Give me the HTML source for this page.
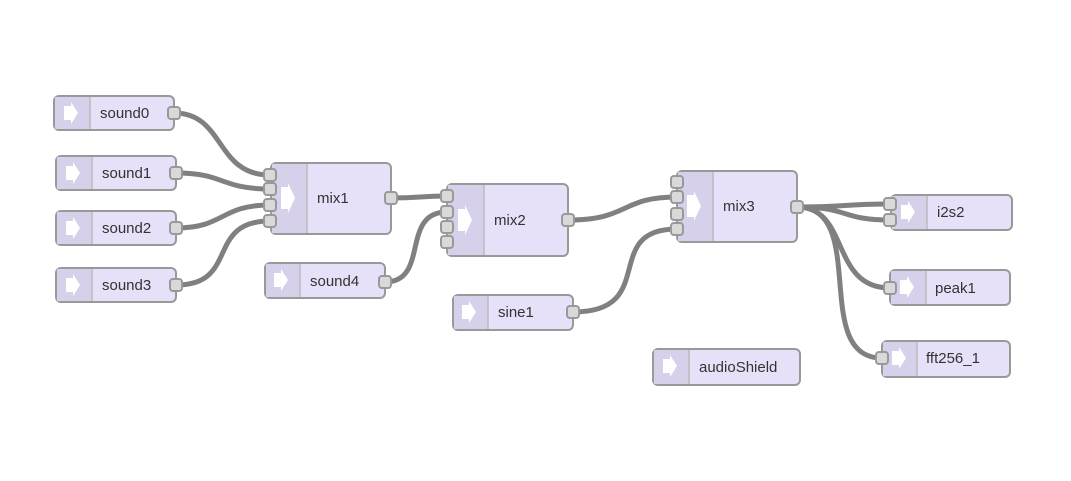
<!DOCTYPE html>
<html><head><meta charset="utf-8"><style>
html,body{margin:0;padding:0;background:#fff;}
svg text{font-family:"Liberation Sans",sans-serif;font-size:15px;fill:#333;}
.n{fill:#e6e0f8;stroke:#999;stroke-width:2;}
.ic{fill:#d6d0ea;}
.sep{stroke:#bbb;stroke-width:1.5;}
.p{fill:#d9d9d9;stroke:#999;stroke-width:2;}
.w{fill:none;stroke:#808080;stroke-width:5;}
.ar{fill:#fff;}
</style></head><body>
<svg width="1071" height="476" viewBox="0 0 1071 476" xmlns="http://www.w3.org/2000/svg">
<!-- wires -->
<path class="w" d="M174 113 C225 113 215 175 270 175"/>
<path class="w" d="M176 173 C225 173 220 189 270 189"/>
<path class="w" d="M176 228 C225 228 220 205 270 205"/>
<path class="w" d="M176 285 C240 285 205 221 270 221"/>
<path class="w" d="M391 198 C420 198 420 196 447 196"/>
<path class="w" d="M385 282 C430 282 400 212 447 212"/>
<path class="w" d="M568 220 C630 220 620 197 677 197"/>
<path class="w" d="M573 312 C660 312 600 229 677 229"/>
<path class="w" d="M797 207 C850 207 840 204 890 204"/>
<path class="w" d="M797 207 C850 207 840 220 890 220"/>
<path class="w" d="M797 207 C850 207 830 288 890 288"/>
<path class="w" d="M797 207 C870 207 810 358 882 358"/>
<g id="nodes">
<!-- sound0 -->
<rect class="n" x="54" y="96" width="120" height="34" rx="5"/>
<path class="ic" d="M55 97 H90 V129 H55 Z"/><line class="sep" x1="90" y1="97" x2="90" y2="129"/>
<path class="ar" d="M64 106 H71 V102 L78 113 L71 124 V120 H64 Z"/>
<text x="100" y="118">sound0</text><rect class="p" x="168" y="107" width="12" height="12" rx="3"/>
<!-- sound1 -->
<rect class="n" x="56" y="156" width="120" height="34" rx="5"/>
<path class="ic" d="M57 157 H92 V189 H57 Z"/><line class="sep" x1="92" y1="157" x2="92" y2="189"/>
<path class="ar" d="M66 166 H73 V162 L80 173 L73 184 V180 H66 Z"/>
<text x="102" y="178">sound1</text><rect class="p" x="170" y="167" width="12" height="12" rx="3"/>
<!-- sound2 -->
<rect class="n" x="56" y="211" width="120" height="34" rx="5"/>
<path class="ic" d="M57 212 H92 V244 H57 Z"/><line class="sep" x1="92" y1="212" x2="92" y2="244"/>
<path class="ar" d="M66 221 H73 V217 L80 228 L73 239 V235 H66 Z"/>
<text x="102" y="233">sound2</text><rect class="p" x="170" y="222" width="12" height="12" rx="3"/>
<!-- sound3 -->
<rect class="n" x="56" y="268" width="120" height="34" rx="5"/>
<path class="ic" d="M57 269 H92 V301 H57 Z"/><line class="sep" x1="92" y1="269" x2="92" y2="301"/>
<path class="ar" d="M66 278 H73 V274 L80 285 L73 296 V292 H66 Z"/>
<text x="102" y="290">sound3</text><rect class="p" x="170" y="279" width="12" height="12" rx="3"/>
<!-- sound4 -->
<rect class="n" x="265" y="263" width="120" height="35" rx="5"/>
<path class="ic" d="M266 264 H300 V297 H266 Z"/><line class="sep" x1="300" y1="264" x2="300" y2="297"/>
<path class="ar" d="M274 273 H281 V269 L288 280 L281 291 V287 H274 Z"/>
<text x="310" y="286">sound4</text><rect class="p" x="379" y="276" width="12" height="12" rx="3"/>
<!-- mix1 -->
<rect class="n" x="271" y="163" width="120" height="71" rx="5"/>
<path class="ic" d="M272 164 H307 V233 H272 Z"/><line class="sep" x1="307" y1="164" x2="307" y2="233"/>
<path class="ar" d="M281 187 H288 V183 L295 198 L288 213 V209 H281 Z"/>
<text x="317" y="203">mix1</text>
<rect class="p" x="264" y="169" width="12" height="12" rx="3"/>
<rect class="p" x="264" y="183" width="12" height="12" rx="3"/>
<rect class="p" x="264" y="199" width="12" height="12" rx="3"/>
<rect class="p" x="264" y="215" width="12" height="12" rx="3"/>
<rect class="p" x="385" y="192" width="12" height="12" rx="3"/>
<!-- mix2 -->
<rect class="n" x="447" y="184" width="121" height="72" rx="5"/>
<path class="ic" d="M448 185 H484 V255 H448 Z"/><line class="sep" x1="484" y1="185" x2="484" y2="255"/>
<path class="ar" d="M458 209 H465 V205 L472 220 L465 235 V231 H458 Z"/>
<text x="494" y="225">mix2</text>
<rect class="p" x="441" y="190" width="12" height="12" rx="3"/>
<rect class="p" x="441" y="206" width="12" height="12" rx="3"/>
<rect class="p" x="441" y="221" width="12" height="12" rx="3"/>
<rect class="p" x="441" y="236" width="12" height="12" rx="3"/>
<rect class="p" x="562" y="214" width="12" height="12" rx="3"/>
<!-- sine1 -->
<rect class="n" x="453" y="295" width="120" height="35" rx="5"/>
<path class="ic" d="M454 296 H488 V329 H454 Z"/><line class="sep" x1="488" y1="296" x2="488" y2="329"/>
<path class="ar" d="M462 305 H469 V301 L476 312 L469 323 V319 H462 Z"/>
<text x="498" y="317">sine1</text><rect class="p" x="567" y="306" width="12" height="12" rx="3"/>
<!-- mix3 -->
<rect class="n" x="677" y="171" width="120" height="71" rx="5"/>
<path class="ic" d="M678 172 H713 V241 H678 Z"/><line class="sep" x1="713" y1="172" x2="713" y2="241"/>
<path class="ar" d="M687 195 H694 V191 L701 206 L694 221 V217 H687 Z"/>
<text x="723" y="211">mix3</text>
<rect class="p" x="671" y="176" width="12" height="12" rx="3"/>
<rect class="p" x="671" y="191" width="12" height="12" rx="3"/>
<rect class="p" x="671" y="208" width="12" height="12" rx="3"/>
<rect class="p" x="671" y="223" width="12" height="12" rx="3"/>
<rect class="p" x="791" y="201" width="12" height="12" rx="3"/>
<!-- i2s2 -->
<rect class="n" x="891" y="195" width="121" height="35" rx="5"/>
<path class="ic" d="M892 196 H927 V229 H892 Z"/><line class="sep" x1="927" y1="196" x2="927" y2="229"/>
<path class="ar" d="M901 205 H908 V201 L915 212 L908 223 V219 H901 Z"/>
<text x="937" y="217">i2s2</text>
<rect class="p" x="884" y="198" width="12" height="12" rx="3"/>
<rect class="p" x="884" y="214" width="12" height="12" rx="3"/>
<!-- peak1 -->
<rect class="n" x="890" y="270" width="120" height="35" rx="5"/>
<path class="ic" d="M891 271 H926 V304 H891 Z"/><line class="sep" x1="926" y1="271" x2="926" y2="304"/>
<path class="ar" d="M900 280 H907 V276 L914 287 L907 298 V294 H900 Z"/>
<text x="935" y="293">peak1</text>
<rect class="p" x="884" y="282" width="12" height="12" rx="3"/>
<!-- fft256_1 -->
<rect class="n" x="882" y="341" width="128" height="36" rx="5"/>
<path class="ic" d="M883 342 H917 V376 H883 Z"/><line class="sep" x1="917" y1="342" x2="917" y2="376"/>
<path class="ar" d="M892 351 H899 V347 L906 358 L899 369 V365 H892 Z"/>
<text x="926" y="363">fft256_1</text>
<rect class="p" x="876" y="352" width="12" height="12" rx="3"/>
<!-- audioShield -->
<rect class="n" x="653" y="349" width="147" height="36" rx="5"/>
<path class="ic" d="M654 350 H689 V384 H654 Z"/><line class="sep" x1="689" y1="350" x2="689" y2="384"/>
<path class="ar" d="M663 359 H670 V355 L677 366 L670 377 V373 H663 Z"/>
<text x="699" y="372">audioShield</text>
</g>
</svg>
</body></html>
